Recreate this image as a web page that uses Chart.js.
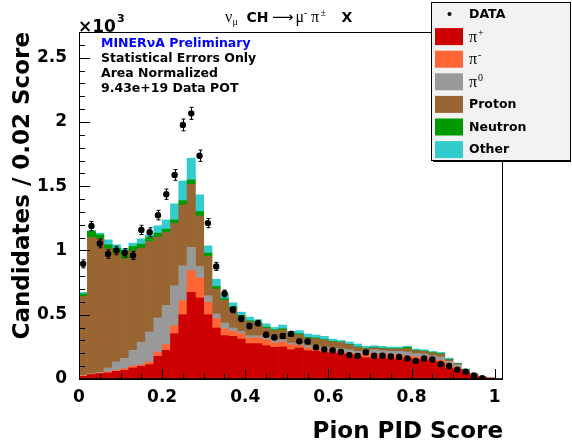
<!DOCTYPE html>
<html><head><meta charset="utf-8">
<script src="https://cdn.jsdelivr.net/npm/chart.js@4/dist/chart.umd.min.js"></script>
<style>html,body{margin:0;padding:0;background:#fff}canvas{display:block}</style>
</head><body>
<canvas id="c" width="572" height="441"></canvas>
<script>
// ---- data (values in units of 10^3 candidates) ----
const binCenters = [0.01,0.03,0.05,0.07,0.09,0.11,0.13,0.15,0.17,0.19,0.21,0.23,0.25,0.27,0.29,0.31,0.33,0.35,0.37,0.39,0.41,0.43,0.45,0.47,0.49,0.51,0.53,0.55,0.57,0.59,0.61,0.63,0.65,0.67,0.69,0.71,0.73,0.75,0.77,0.79,0.81,0.83,0.85,0.87,0.89,0.91,0.93,0.95,0.97,0.99];
const piPlus  = [0.021,0.034,0.042,0.047,0.060,0.068,0.086,0.099,0.112,0.176,0.223,0.352,0.500,0.674,0.630,0.500,0.397,0.337,0.332,0.311,0.275,0.275,0.259,0.246,0.249,0.228,0.241,0.220,0.215,0.207,0.202,0.194,0.189,0.176,0.165,0.163,0.163,0.155,0.155,0.163,0.150,0.150,0.137,0.124,0.086,0.073,0.052,0.026,0.013,0.006];
const piMinus = [0.004,0.003,0.003,0.008,0.008,0.012,0.014,0.011,0.021,0.034,0.045,0.063,0.110,0.169,0.156,0.097,0.072,0.052,0.039,0.041,0.044,0.046,0.047,0.034,0.038,0.039,0.021,0.021,0.026,0.021,0.018,0.016,0.013,0.018,0.020,0.034,0.031,0.029,0.029,0.018,0.021,0.021,0.018,0.021,0.025,0.017,0.008,0.007,0.001,0.001];
const piZero  = [0.005,0.003,0.007,0.031,0.065,0.081,0.123,0.176,0.233,0.265,0.305,0.311,0.271,0.181,0.090,0.051,0.037,0.047,0.026,0.018,0.018,0.016,0.018,0.020,0.019,0.013,0.013,0.018,0.018,0.021,0.021,0.026,0.026,0.021,0.017,0.031,0.026,0.031,0.031,0.029,0.026,0.023,0.026,0.026,0.026,0.021,0.010,0.003,0.001,0.000];
const proton  = [0.613,1.061,1.038,0.927,0.846,0.774,0.774,0.732,0.704,0.628,0.567,0.486,0.474,0.491,0.393,0.305,0.194,0.175,0.150,0.115,0.109,0.090,0.072,0.076,0.077,0.072,0.070,0.060,0.054,0.054,0.049,0.049,0.039,0.031,0.034,0.013,0.016,0.018,0.018,0.026,0.023,0.021,0.021,0.023,0.013,0.008,0.001,0.001,0.000,0.000];
const neutron = [0.018,0.047,0.032,0.031,0.039,0.062,0.034,0.031,0.031,0.032,0.026,0.026,0.033,0.034,0.034,0.026,0.020,0.013,0.013,0.010,0.007,0.008,0.008,0.007,0.008,0.005,0.007,0.005,0.006,0.003,0.003,0.003,0.003,0.004,0.004,0.003,0.003,0.003,0.003,0.010,0.003,0.003,0.003,0.003,0.003,0.002,0.001,0.001,0.000,0.000];
const other   = [0.013,0.007,0.013,0.039,0.026,0.016,0.026,0.042,0.021,0.057,0.072,0.125,0.153,0.169,0.130,0.057,0.056,0.040,0.033,0.025,0.029,0.026,0.026,0.018,0.029,0.014,0.024,0.026,0.023,0.026,0.018,0.012,0.018,0.022,0.014,0.015,0.015,0.013,0.013,0.008,0.010,0.010,0.010,0.010,0.010,0.003,0.006,0.003,0.001,0.001];
const dataVals = [0.896,1.190,1.055,0.973,1.000,0.982,0.961,1.160,1.142,1.275,1.438,1.588,1.977,2.067,1.737,1.213,0.876,0.665,0.539,0.469,0.412,0.435,0.345,0.324,0.335,0.351,0.293,0.292,0.246,0.230,0.223,0.211,0.186,0.179,0.207,0.181,0.181,0.176,0.171,0.160,0.141,0.160,0.152,0.117,0.101,0.073,0.057,0.027,0.007,null];
const dataErr  = [0.031,0.036,0.034,0.033,0.033,0.033,0.032,0.036,0.035,0.037,0.040,0.042,0.046,0.047,0.044,0.036,0.031,0.027,0.024,0.023,0.021,0.022,0.019,0.019,0.019,0.020,0.018,0.018,0.016,0.016,0.016,0.015,0.014,0.014,0.015,0.014,0.014,0.014,0.014,0.013,0.012,0.013,0.013,0.011,0.010,0.009,0.008,0.005,0.003,0];
const xTickVals = [0,0.2,0.4,0.6,0.8,1];
const yTickVals = [0,0.5,1,1.5,2,2.5];
const seriesNames = ['π+','π-','π0','Proton','Neutron','Other'];
const seriesColors = ['#cc0000','#ff6633','#999999','#996633','#009900','#33cccc'];
const seriesData = [piPlus,piMinus,piZero,proton,neutron,other];
const infoLines = ['MINERνA Preliminary','Statistical Errors Only','Area Normalized','9.43e+19 Data POT'];

const SANS = '"DejaVu Sans", sans-serif';
const SERIF = '"Liberation Serif", "DejaVu Serif", serif';

const datasets = seriesData.map((arr, k) => ({
  type: 'bar',
  label: seriesNames[k],
  data: arr.map((v, i) => ({x: binCenters[i], y: v})),
  backgroundColor: seriesColors[k],
  borderWidth: 0,
  barPercentage: 1,
  categoryPercentage: 1,
  stack: 'mc',
  order: 1
}));
datasets.push({
  type: 'line',
  label: 'DATA',
  data: dataVals.map((v, i) => ({x: binCenters[i], y: v})),
  showLine: false,
  pointRadius: 3.2,
  pointBackgroundColor: '#000',
  pointBorderWidth: 0,
  stack: 'data',
  order: 0
});

function drawScript(c, parts, baseY) {
  parts.forEach(p => {
    c.font = p[1];
    c.fillText(p[0], p[3], baseY + p[2]);
  });
}

const extras = {
  id: 'extras',
  beforeDatasetDraw(chart, args) {
    if (args.meta.type !== 'line') return;
    const xs = chart.scales.x, ys = chart.scales.y, c = chart.ctx;
    c.save();
    c.strokeStyle = '#000'; c.lineWidth = 1;
    dataVals.forEach((v, i) => {
      if (v == null) return;
      const px = Math.round(xs.getPixelForValue(binCenters[i])) + 0.5;
      const y1 = ys.getPixelForValue(v - dataErr[i]);
      const y2 = ys.getPixelForValue(v + dataErr[i]);
      c.beginPath();
      c.moveTo(px, y1); c.lineTo(px, y2);
      c.moveTo(px - 2, y1); c.lineTo(px + 2, y1);
      c.moveTo(px - 2, y2); c.lineTo(px + 2, y2);
      c.stroke();
    });
    c.restore();
  },
  afterDraw(chart) {
    const c = chart.ctx, a = chart.chartArea, xs = chart.scales.x, ys = chart.scales.y;
    c.save();
    // frame
    c.strokeStyle = '#000'; c.lineWidth = 1;
    c.strokeRect(a.left + 0.5, a.top + 0.5, a.right - a.left - 1, a.bottom - a.top);
    c.lineWidth = 1.5;
    c.beginPath(); c.moveTo(a.left, a.bottom); c.lineTo(a.right, a.bottom); c.stroke();
    c.lineWidth = 1;
    // y ticks (inside)
    c.beginPath();
    for (let k = 0; k <= 27; k++) {
      const v = k * 0.1;
      const py = Math.round(ys.getPixelForValue(v)) + 0.5;
      const len = (k % 5 === 0) ? 11 : 6;
      c.moveTo(a.left, py); c.lineTo(a.left + len, py);
    }
    // x ticks (inside)
    for (let k = 0; k <= 20; k++) {
      const v = k * 0.05;
      const px = Math.round(xs.getPixelForValue(v)) + 0.5;
      const len = (k % 4 === 0) ? 10 : 5;
      c.moveTo(px, a.bottom); c.lineTo(px, a.bottom - len);
    }
    c.stroke();

    // x10^3
    c.fillStyle = '#000';
    c.textBaseline = 'alphabetic';
    c.textAlign = 'left';
    c.font = 'bold 17px ' + SANS;
    c.fillText('×10', 78, 32);
    c.font = 'bold 11px ' + SANS;
    c.fillText('3', 117, 22);

    // info block
    c.font = 'bold 12.5px ' + SANS;
    infoLines.forEach((t, i) => {
      c.fillStyle = i === 0 ? '#0000ff' : '#000';
      c.fillText(t, 101, 46.5 + i * 15.3);
    });

    // title: nu_mu CH -> mu- pi+- X
    c.fillStyle = '#000';
    const g = '16px ' + SERIF, gs = '10px ' + SERIF, b = 'bold 14px ' + SANS, ar = '15px ' + SANS;
    drawScript(c, [
      ['ν', g, 0, 225], ['μ', gs, 3, 232.5], ['CH', b, 0, 246.5], ['⟶', ar, 0, 272],
      ['μ', g, 0, 295.5], ['-', gs, -6, 304], ['π', g, 0, 311], ['±', gs, -6, 320.5], ['X', b, 0, 341.5]
    ], 21.5);

    // legend
    const L = {x: 431, y: 2, w: 140, h: 159};
    c.fillStyle = '#f2f2f2';
    c.fillRect(L.x, L.y, L.w, L.h);
    c.strokeStyle = '#000'; c.lineWidth = 1;
    c.strokeRect(L.x + 0.5, L.y + 0.5, L.w - 1, L.h - 1);
    c.lineWidth = 2;
    c.beginPath(); c.moveTo(L.x + 2, L.y + L.h); c.lineTo(L.x + L.w, L.y + L.h); c.stroke();
    c.lineWidth = 1;
    const rowY = i => 14 + i * 22.6;
    c.fillStyle = '#000';
    c.beginPath(); c.arc(449.5, rowY(0), 2, 0, Math.PI * 2); c.fill();
    c.textBaseline = 'middle';
    c.font = 'bold 12.5px ' + SANS;
    c.fillText('DATA', 469, rowY(0) + 0.5);
    seriesNames.forEach((n, k) => {
      const cy = rowY(k + 1);
      c.fillStyle = seriesColors[k];
      c.fillRect(435, cy - 8.5, 28, 17);
      c.fillStyle = '#000';
      if (n.startsWith('π')) {
        c.textBaseline = 'alphabetic';
        c.font = '16px ' + SERIF;
        c.fillText('π', 469, cy + 5);
        c.font = '10px ' + SERIF;
        c.fillText(n.slice(1), 478, cy - 1);
        c.textBaseline = 'middle';
      } else {
        c.font = 'bold 12.5px ' + SANS;
        c.fillText(n, 469, cy + 0.5);
      }
    });
    c.restore();
  }
};

new Chart(document.getElementById('c'), {
  data: {datasets},
  plugins: [extras],
  options: {
    responsive: false,
    animation: false,
    devicePixelRatio: 1,
    layout: {padding: {left: 0, right: 69, top: 32, bottom: 0}},
    plugins: {legend: {display: false}, tooltip: {enabled: false}, title: {display: false}},
    scales: {
      x: {
        type: 'linear', min: 0, max: 1.02, stacked: true, offset: false,
        grid: {display: false}, border: {display: false},
        afterBuildTicks: s => { s.ticks = xTickVals.map(v => ({value: v})); },
        ticks: {color: '#000', padding: 0, maxRotation: 0, autoSkip: false,
                callback: v => String(v),
                font: {family: 'DejaVu Sans', weight: 'bold', size: 17}},
        title: {display: true, text: 'Pion PID Score', align: 'end', color: '#000',
                font: {family: 'DejaVu Sans', weight: 'bold', size: 23, lineHeight: 1}, padding: {top: 0, bottom: -3}},
        afterFit: s => { s.height = 62; }
      },
      y: {
        type: 'linear', min: 0, max: 2.7, stacked: true,
        grid: {display: false}, border: {display: false},
        afterBuildTicks: s => { s.ticks = yTickVals.map(v => ({value: v})); },
        ticks: {color: '#000', padding: 4, autoSkip: false,
                callback: v => String(v),
                font: {family: 'DejaVu Sans', weight: 'bold', size: 17}},
        title: {display: true, text: 'Candidates / 0.02 Score', align: 'end', color: '#000',
                font: {family: 'DejaVu Sans', weight: 'bold', size: 23, lineHeight: 1}, padding: {top: 12, bottom: 0}},
        afterFit: s => { s.width = 79; }
      }
    }
  }
});
</script>
</body></html>
